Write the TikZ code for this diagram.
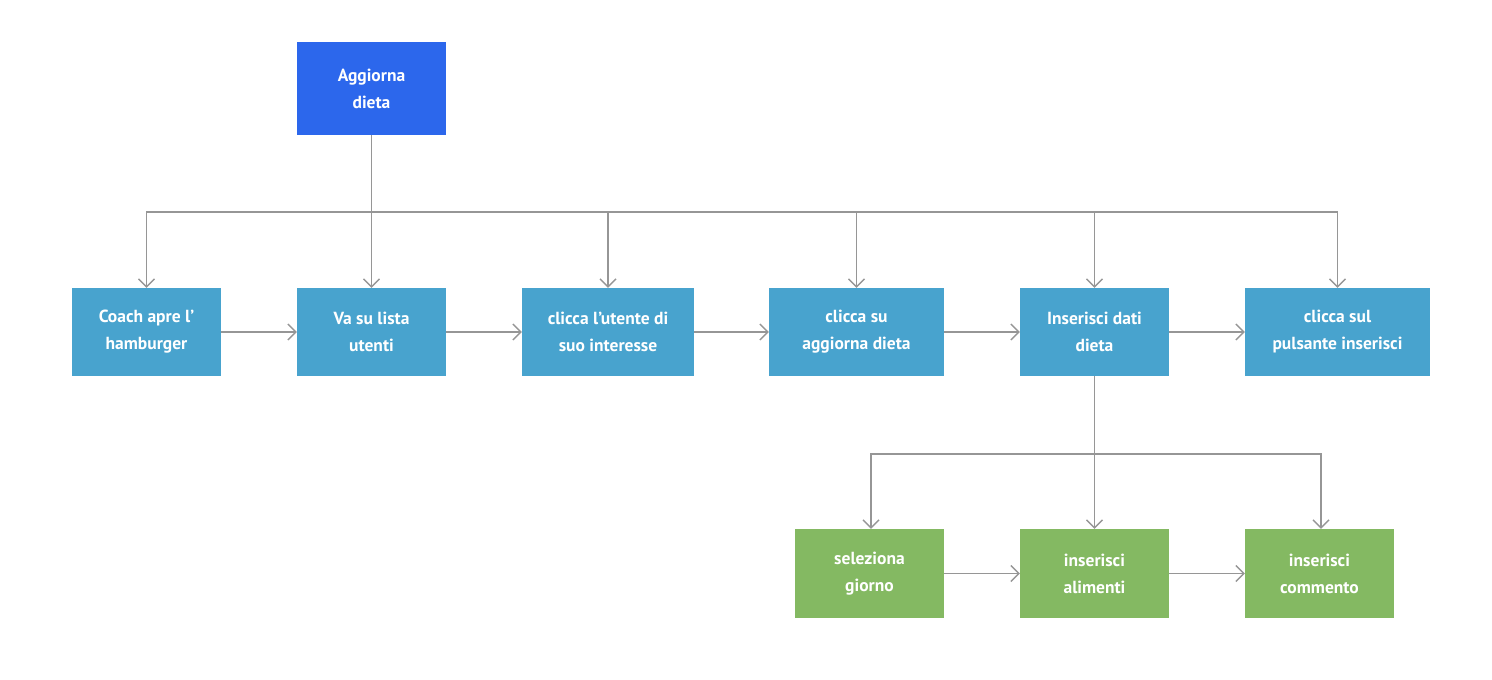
\documentclass[tikz,border=0pt]{standalone}
\usepackage{fontspec}
\setmainfont{PT Sans}
\usetikzlibrary{arrows.meta}
\definecolor{topblue}{RGB}{44,103,236}
\definecolor{stepblue}{RGB}{72,163,206}
\definecolor{stepgreen}{RGB}{132,185,98}
\definecolor{linegray}{RGB}{150,150,150}
\tikzset{
  x=1pt, y=-1pt,
  box/.style={draw=none, text=white, align=center, inner sep=0pt,
    font=\fontsize{17.5}{27}\selectfont\bfseries, minimum height=#1},
  box/.default=88pt,
  conn/.style={draw=linegray, line width=1.4pt, -{Straight Barb[length=8pt,width=16pt,line width=1.4pt]}},
  plain/.style={draw=linegray, line width=1.4pt},
}
\begin{document}
\begin{tikzpicture}
\useasboundingbox (0,0) rectangle (1492,680);
% top
\node[box=93pt, fill=topblue, minimum width=149pt] (top) at (371.5,88.5) {Aggiorna\\dieta};
% row 1
\node[box, fill=stepblue, minimum width=149pt] (n1) at (146.5,332) {Coach apre l’\\hamburger};
\node[box, fill=stepblue, minimum width=149pt] (n2) at (371.5,332) {Va su lista\\utenti};
\node[box, fill=stepblue, minimum width=172pt] (n3) at (608,332) {clicca l’utente di\\suo interesse};
\node[box, fill=stepblue, minimum width=175pt] (n4) at (856.5,332) {clicca su\\aggiorna dieta};
\node[box, fill=stepblue, minimum width=149pt] (n5) at (1094.5,332) {Inserisci dati\\dieta};
\node[box, fill=stepblue, minimum width=185pt] (n6) at (1337.5,332) {clicca sul\\pulsante inserisci};
% row 2
\node[box=89pt, fill=stepgreen, minimum width=149pt] (g1) at (869.5,573.5) {seleziona\\giorno};
\node[box=89pt, fill=stepgreen, minimum width=149pt] (g2) at (1094.5,573.5) {inserisci\\alimenti};
\node[box=89pt, fill=stepgreen, minimum width=149pt] (g3) at (1319.5,573.5) {inserisci\\commento};
% bus from top
\coordinate (b0) at (371.5,212);
\draw[plain] (top.south) -- (b0);
\draw[conn] (b0) -| (n1.north);
\draw[conn] (b0) -- (n2.north);
\draw[conn] (b0) -| (n3.north);
\draw[conn] (b0) -| (n4.north);
\draw[conn] (b0) -| (n5.north);
\draw[conn] (b0) -| (n6.north);
% horizontal flow row 1
\draw[conn] (n1) -- (n2);
\draw[conn] (n2) -- (n3);
\draw[conn] (n3) -- (n4);
\draw[conn] (n4) -- (n5);
\draw[conn] (n5) -- (n6);
% bus from n5
\coordinate (b1) at (1094.5,454);
\draw[plain] (n5.south) -- (b1);
\draw[conn] (b1) -| ([xshift=1.5pt]g1.north);
\draw[conn] (b1) -- (g2.north);
\draw[conn] (b1) -| ([xshift=1.5pt]g3.north);
% horizontal flow row 2
\draw[conn] (g1) -- (g2);
\draw[conn] (g2) -- (g3);
\end{tikzpicture}
\end{document}
